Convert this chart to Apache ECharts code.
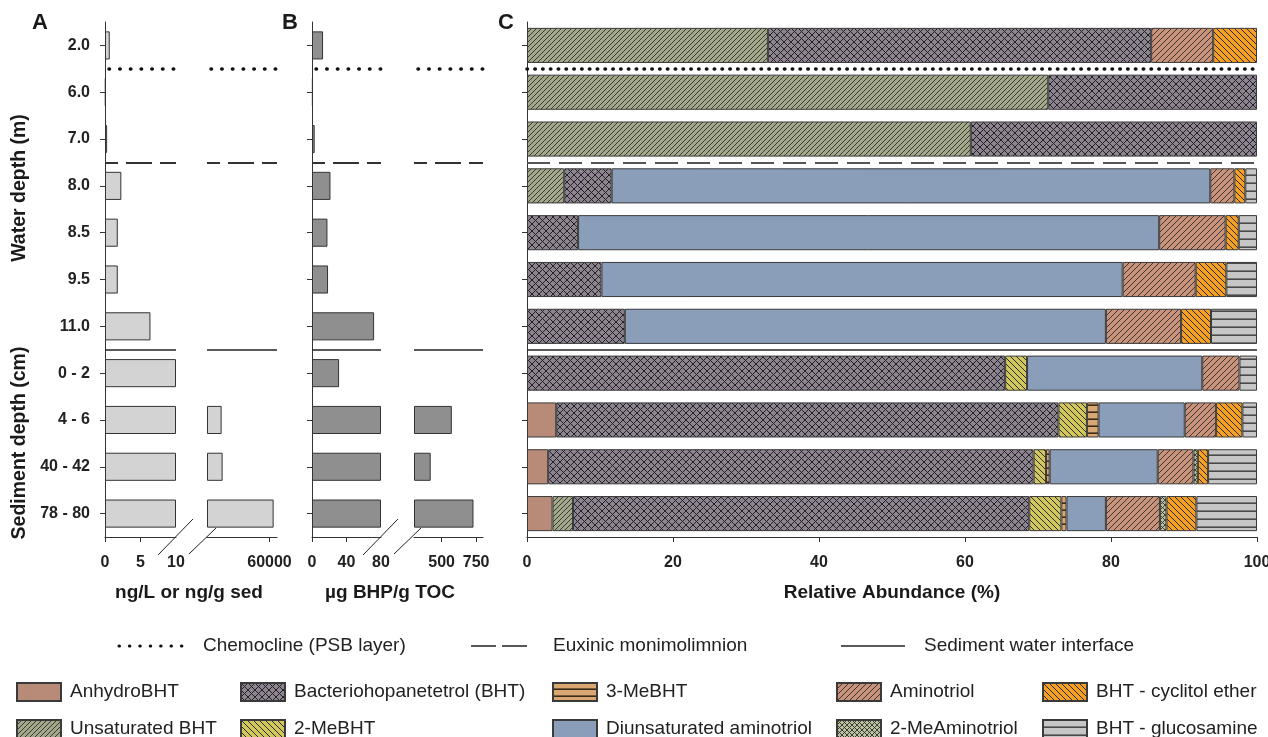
<!DOCTYPE html>
<html><head><meta charset="utf-8">
<script src="https://cdn.jsdelivr.net/npm/echarts@6/dist/echarts.min.js"></script>
<style>html,body{margin:0;padding:0;background:#fff}#c{width:1268px;height:737px}</style>
</head><body><div id="c"></div>
<script>
// ---------- DATA ----------
const depths = ['2.0','6.0','7.0','8.0','8.5','9.5','11.0','0 - 2','4 - 6','40 - 42','78 - 80'];
// Panel A: ng/L (water) or ng/g sed (sediment)
const concA = [0.67, 0.1, 0.3, 2.3, 1.8, 1.8, 6.4, 8000, 21700, 22500, 63300];
// Panel B: µg BHP / g TOC
const concB = [12.8, 1.0, 3.1, 21.4, 17.9, 18.6, 72, 31.4, 574, 421, 731];
// Panel C: relative abundance (%)
const anhydroBHT   = [0, 0, 0, 0, 0, 0, 0, 0, 4.0, 2.9, 3.5];
const unsatBHT     = [33.0, 71.4, 60.8, 5.1, 0, 0, 0, 0, 0, 0, 2.8];
const bht          = [52.5, 28.6, 39.2, 6.5, 7.0, 10.2, 13.4, 65.5, 68.8, 66.5, 62.5];
const me2BHT       = [0, 0, 0, 0, 0, 0, 0, 3.0, 3.9, 1.7, 4.4];
const me3BHT       = [0, 0, 0, 0, 0, 0, 0, 0, 1.6, 0.5, 0.7];
const diunsatAmino = [0, 0, 0, 82.0, 79.6, 71.4, 65.9, 24.0, 11.8, 14.8, 5.4];
const aminotriol   = [8.5, 0, 0, 3.3, 9.1, 10.0, 10.3, 5.1, 4.3, 4.9, 7.4];
const me2Amino     = [0, 0, 0, 0, 0, 0, 0, 0, 0, 0.6, 0.9];
const cyclitol     = [6.0, 0, 0, 1.5, 1.8, 4.2, 4.1, 0, 3.6, 1.4, 4.1];
const glucosamine  = [0, 0, 0, 1.6, 2.5, 4.2, 6.3, 2.4, 2.0, 6.7, 8.3];
const compNames = ['AnhydroBHT','Unsaturated BHT','Bacteriohopanetetrol (BHT)','2-MeBHT','3-MeBHT',
  'Diunsaturated aminotriol','Aminotriol','2-MeAminotriol','BHT - cyclitol ether','BHT - glucosamine'];
const compData = [anhydroBHT, unsatBHT, bht, me2BHT, me3BHT, diunsatAmino, aminotriol, me2Amino, cyclitol, glucosamine];
// axis break definitions and tick labels
const aLeft = [0, 10], aRight = [10000, 66000];
const bLeft = [0, 80], bRight = [300, 800];
const aLeftLabels = [0, 5, 10], aRightLabels = [60000];
const bLeftLabels = [0, 40, 80], bRightLabels = [500, 750];
const cLabels = [0, 20, 40, 60, 80, 100];
// separators between categories (chemocline, euxinic, sediment-water interface)
const sepPos = [0.5, 2.5, 6.5];

// ---------- STYLE ----------
const FONT = '"Liberation Sans", Arial, sans-serif';
function pat(bg, kind, s, lc, lw) {
  const c = document.createElement('canvas'); c.width = s; c.height = s;
  const x = c.getContext('2d');
  x.fillStyle = bg; x.fillRect(0, 0, s, s);
  x.strokeStyle = lc; x.lineWidth = lw;
  const L = (a,b,cc,d)=>{x.beginPath();x.moveTo(a,b);x.lineTo(cc,d);x.stroke();};
  if (kind === 'fwd' || kind === 'cross') { L(-1, s+1, s+1, -1); L(-1, 1, 1, -1); L(s-1, s+1, s+1, s-1); }
  if (kind === 'back' || kind === 'cross') { L(-1, -1, s+1, s+1); L(s-1, -1, s+1, 1); L(-1, s-1, 1, s+1); }
  if (kind === 'horiz') { L(0, s - lw/2, s, s - lw/2); }
  return { image: c, repeat: 'repeat' };
}
const fills = [
  '#b88a78',
  pat('#a4a88a', 'fwd', 5, '#2b2b2b', 0.9),
  pat('#8e8491', 'cross', 7, '#222', 1),
  pat('#d2c75a', 'back', 6, '#2b2b2b', 1),
  pat('#d8a772', 'horiz', 7, '#3a2a1a', 1.6),
  '#8a9eb9',
  pat('#c8927b', 'fwd', 6, '#2b2b2b', 0.9),
  pat('#b9c29c', 'cross', 5, '#2e2e2e', 0.9),
  pat('#f5a023', 'back', 6, '#2b2b2b', 1),
  pat('#c6c6c6', 'horiz', 8, '#4a4a4a', 1.6)
];

const TOP = 22, BOT = 200;
const grids = [
  {left: 105, top: TOP, width: 71, bottom: BOT},
  {left: 207, top: TOP, width: 70, bottom: BOT},
  {left: 312, top: TOP, width: 69, bottom: BOT},
  {left: 414, top: TOP, width: 69, bottom: BOT},
  {left: 527, top: TOP, width: 730, bottom: BOT}
].map(g => Object.assign({outerBoundsMode: 'none', containLabel: false}, g));
const lbl = {fontFamily: FONT, fontWeight: 'bold', fontSize: 16, color: '#222'};
function xA(gi, mn, mx, labels, ticks) {
  return {type: 'value', gridIndex: gi, min: mn, max: mx, splitLine: {show: false},
    axisLine: {show: true, onZero: false, lineStyle: {color: '#333', width: 1}},
    axisTick: {show: true, length: 5, lineStyle: {color: '#333'}, customValues: ticks},
    axisLabel: Object.assign({margin: 18, customValues: labels, formatter: v => String(v)}, lbl)};
}
const xAxes = [
  xA(0, aLeft[0], aLeft[1], aLeftLabels, aLeftLabels.slice(0, 2)),
  xA(1, aRight[0], aRight[1], aRightLabels, aRightLabels),
  xA(2, bLeft[0], bLeft[1], bLeftLabels, bLeftLabels.slice(0, 2)),
  xA(3, bRight[0], bRight[1], bRightLabels, bRightLabels),
  xA(4, 0, 100, cLabels, cLabels)
];
const showY = [true, false, true, false, true];
const yAxes = [];
for (let g = 0; g < 5; g++) {
  yAxes.push({type: 'category', gridIndex: g, data: depths, inverse: true,
    axisLine: {show: showY[g], onZero: false, lineStyle: {color: '#333', width: 1}},
    axisTick: {show: showY[g], alignWithLabel: true, length: 5, lineStyle: {color: '#333'}},
    axisLabel: Object.assign({show: g === 0, margin: 15}, lbl)});
}
for (let g = 0; g < 5; g++) {
  yAxes.push({type: 'value', gridIndex: g, min: -0.5, max: depths.length - 0.5, inverse: true, show: false,
    axisLine: {onZero: false}});
}

const series = [];
const edge = {borderColor: '#333', borderWidth: 1};
function brokenBars(vals, gL, gR, left, right, color) {
  series.push({type: 'bar', xAxisIndex: gL, yAxisIndex: gL, barWidth: '60%', silent: true,
    data: vals.map(v => Math.min(v, left[1])), itemStyle: Object.assign({color}, edge)});
  series.push({type: 'bar', xAxisIndex: gR, yAxisIndex: gR, barWidth: '60%', stack: 'r' + gR, silent: true,
    data: vals.map(v => v > right[0] ? right[0] : '-'), itemStyle: {color: 'rgba(0,0,0,0)', borderWidth: 0}});
  series.push({type: 'bar', xAxisIndex: gR, yAxisIndex: gR, barWidth: '60%', stack: 'r' + gR, silent: true,
    data: vals.map(v => v > right[0] ? v - right[0] : '-'), itemStyle: Object.assign({color}, edge)});
}
brokenBars(concA, 0, 1, aLeft, aRight, '#d3d3d3');
brokenBars(concB, 2, 3, bLeft, bRight, '#8f8f8f');

compNames.forEach((n, i) => {
  series.push({type: 'bar', name: n, xAxisIndex: 4, yAxisIndex: 4, stack: 'c', barWidth: '75%', silent: true,
    data: compData[i].map(v => v > 0 ? v : '-'),
    itemStyle: {color: fills[i], borderColor: '#3a3a3a', borderWidth: 1}});
});

// separator lines
function sepStyles(isC) {
  return [
    {width: 3.5, color: '#111', type: isC ? [0.5, 7.3] : [0.5, 10.2], cap: 'round', dashOffset: isC ? 0 : -4},
    {width: 2, color: isC ? '#555' : '#333', type: isC ? [23, 9] : [26, 8], dashOffset: isC ? 0 : 13},
    {width: 1.5, color: '#222', type: 'solid'}
  ];
}
for (let g = 0; g < 5; g++) {
  const st = sepStyles(g === 4);
  series.push({type: 'line', xAxisIndex: g, yAxisIndex: 5 + g, data: [], silent: true, symbol: 'none',
    markLine: {silent: true, symbol: ['none', 'none'], animation: false, label: {show: false},
      data: sepPos.map((p, k) => ({yAxis: p, lineStyle: st[k]}))}});
}

// legends for components
const legPos = [[16, 682], [16, 719], [240, 682], [240, 719], [552, 682], [552, 719], [836, 682], [836, 719], [1042, 682], [1042, 719]];
const legends = compNames.map((n, i) => ({data: [n], left: legPos[i][0], top: legPos[i][1], padding: 0,
  itemWidth: 44, itemHeight: 18, selectedMode: false, icon: 'rect',
  textStyle: {fontFamily: FONT, fontSize: 19, color: '#222', padding: [0, 0, 0, 4]}}));

const T = (text, x, y, size, bold, extra) => Object.assign({type: 'text', x, y, silent: true,
  style: {text, font: (bold ? 'bold ' : '') + size + 'px ' + FONT, fill: '#1a1a1a', align: 'center', verticalAlign: 'middle'}}, extra || {});
const TL = (text, x, y) => ({type: 'text', x, y, silent: true,
  style: {text, font: '19px ' + FONT, fill: '#222', align: 'left', verticalAlign: 'middle'}});
const Ln = (x1, y1, x2, y2, st) => ({type: 'line', silent: true, shape: {x1, y1, x2, y2}, style: Object.assign({stroke: '#222', lineWidth: 1}, st || {})});
const graphic = [
  T('A', 40, 23, 22, true), T('B', 290, 23, 22, true), T('C', 506, 23, 22, true),
  T('Water depth (m)', 20, 188, 19.5, true, {rotation: Math.PI / 2}),
  T('Sediment depth (cm)', 20, 443, 19.5, true, {rotation: Math.PI / 2}),
  T('ng/L or ng/g sed', 189, 593, 19, true),
  T('µg BHP/g TOC', 390, 593, 19, true),
  T('Relative Abundance (%)', 892, 593, 19, true),
  // axis break marks
  Ln(158, 555, 193, 519), Ln(189, 554, 216, 528),
  Ln(363, 555, 398, 519), Ln(394, 554, 421, 528),
  // line legend
  Ln(119, 646, 182, 646, {lineWidth: 3, lineDash: [0.5, 9.9], lineCap: 'round', stroke: '#111'}),
  TL('Chemocline (PSB layer)', 203, 646),
  Ln(471, 646, 527, 646, {lineWidth: 1.5, lineDash: [25, 6]}),
  TL('Euxinic monimolimnion', 553, 646),
  Ln(841, 646, 905, 646, {lineWidth: 1.5}),
  TL('Sediment water interface', 924, 646)
];

const chart = echarts.init(document.getElementById('c'), null, {renderer: 'canvas'});
chart.setOption({
  animation: false,
  backgroundColor: '#fff',
  grid: grids,
  xAxis: xAxes,
  yAxis: yAxes,
  legend: legends,
  series,
  graphic
});
</script></body></html>
